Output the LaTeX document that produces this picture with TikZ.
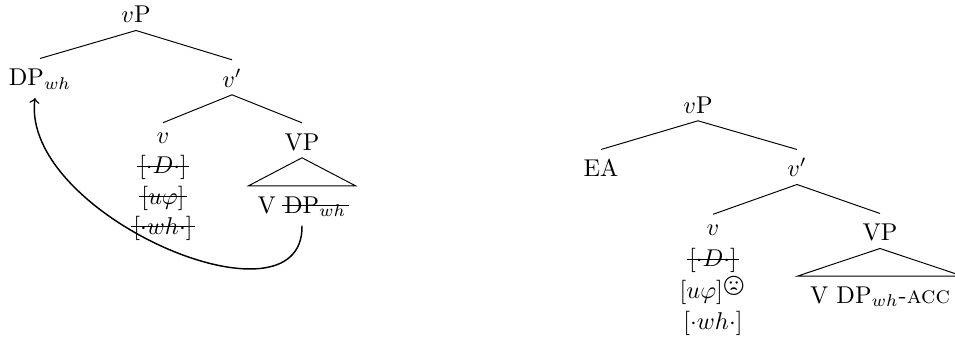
\documentclass[tikz,border=0pt]{standalone}
\usepackage{wasysym}
\usetikzlibrary{arrows}

\newcommand{\struck}[1]{\sbox0{#1}\makebox[0pt][l]{\hspace{-1pt}\rule[.3em]{\dimexpr\wd0+2pt\relax}{.4pt}}\usebox0}

\begin{document}
\begin{tikzpicture}[x=0.4115pt,y=-0.4115pt]
\tikzset{cat/.style = {anchor=base,inner sep=0pt,text height=11pt,text depth=3pt}}
\tikzset{stack/.style = {anchor=north,inner sep=0pt,align=center}}
\tikzset{tri/.style = {cat,text depth=5pt,minimum width=#1*0.4115pt}}
\tikzset{edge/.style = {line width=.4pt}}
\tikzset{move/.style = {->,line width=.6pt}}

\useasboundingbox (0,0) rectangle (955,336);

% left tree
\node[cat] (vPa) at (136,22.7) {$v$P};
\node[cat] (DPa) at (40,85.7) {DP$_{wh}$};
\node[cat] (vbara) at (232,87) {$v'$};
\node[stack] (va) at (163,122.7) {\strut$v$\\[.5pt]
  \struck{$[{\cdot}D{\cdot}]$}\\[.5pt]
  \struck{$[u\varphi]$}\\[.5pt]
  \struck{$[{\cdot}wh{\cdot}]$}};
\node[cat] (VPa) at (302,150) {VP};
\node[tri=106] (lowa) at (302,213) {V \struck{DP$_{wh}$}};
\coordinate (landa) at (35,98);

\draw[edge] (vPa.south) to (DPa.north);
\draw[edge] (vPa.south) to (vbara.north);
\draw[edge] (vbara.south) to (va.north);
\draw[edge] (vbara.south) to (VPa.north);
\draw[edge] (VPa.south) -- (lowa.north west) -- (lowa.north east) -- cycle;
\draw[move] (lowa.south) .. controls +(2,110) and +(-15,117) .. (landa);

% right tree
\node[cat] (vPb) at (698,113) {$v$P};
\node[cat] (EA) at (601,176.7) {EA};
\node[cat] (vbarb) at (797,176.7) {$v'$};
\node[stack] (vb) at (713,214.3) {\strut$v$\\[1pt]
  \struck{$[{\cdot}D{\cdot}]$}\\[1pt]
  $[u\varphi]$\raisebox{1pt}{\large\frownie}\\[1pt]
  $[{\cdot}wh{\cdot}]$};
\node[cat] (VPb) at (880,240.7) {VP};
\node[tri=164] (lowb) at (880,303.3) {V DP$_{wh}$-\textsc{acc}};

\draw[edge] (vPb.south) to (EA.north);
\draw[edge] (vPb.south) to (vbarb.north);
\draw[edge] (vbarb.south) to (vb.north);
\draw[edge] (vbarb.south) to (VPb.north);
\draw[edge] (VPb.south) -- (lowb.north west) -- (lowb.north east) -- cycle;
\end{tikzpicture}
\end{document}
